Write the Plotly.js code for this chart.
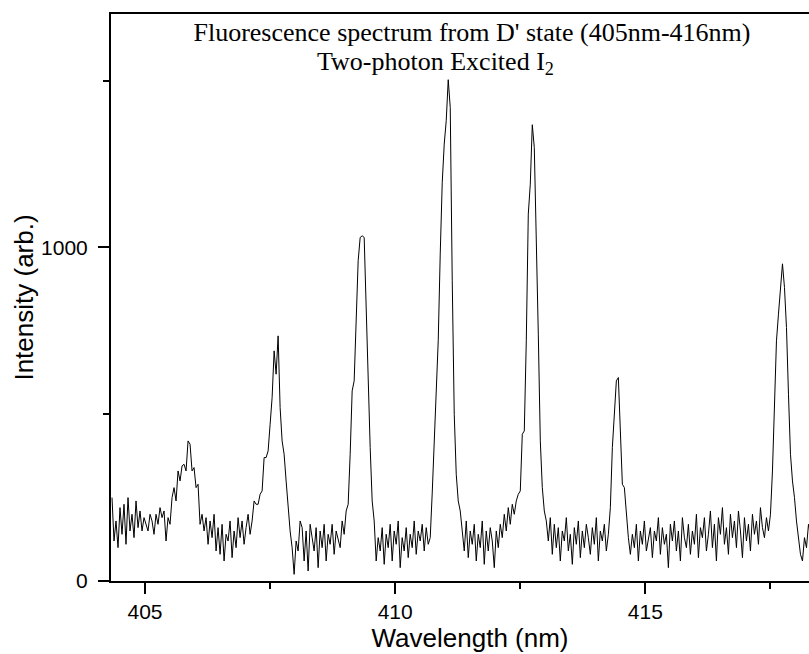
<!DOCTYPE html>
<html>
<head>
<meta charset="utf-8">
<script src="https://cdn.plot.ly/plotly-3.0.1.min.js"></script>
<style>
html, body { margin: 0; padding: 0; overflow: hidden; background: #fff; }
#chart { width: 829px; height: 654px; }
</style>
</head>
<body>
<div id="chart"></div>
<script>
// Spectrum sampled on a regular wavelength grid (nm)
const wavelengthStart = 404.34;
const wavelengthStep = 0.04;

// Intensity (arb.), one value per grid step
const intensity = [
  250,120,180,100,220,140,230,110,250,150,
  200,130,240,160,210,150,190,170,150,200,
  180,140,200,170,220,190,210,120,190,170,
  250,280,240,330,300,345,350,330,420,410,
  330,340,280,290,170,200,150,190,110,180,
  130,200,90,160,80,170,60,140,120,180,
  70,150,100,190,130,180,110,160,200,140,
  180,240,230,230,260,270,370,370,390,470,
  550,690,620,735,520,420,380,300,210,150,
  100,20,120,90,180,160,60,150,30,170,
  130,90,160,40,150,100,170,60,140,110,
  170,80,150,120,100,180,140,210,230,380,
  570,600,780,960,1030,1035,1030,820,560,400,
  240,180,60,130,90,160,50,140,100,170,
  60,150,110,180,40,130,90,160,70,140,
  100,180,80,150,120,170,90,160,110,130,
  264,400,560,720,980,1194,1310,1380,1503,1420,
  900,500,320,240,210,150,90,180,70,150,
  110,170,60,140,100,180,50,150,90,160,
  120,40,150,100,170,130,200,150,220,170,
  230,200,240,260,270,440,450,720,1100,1190,
  1368,1300,1050,740,420,280,210,180,120,190,
  80,170,100,160,60,150,120,190,90,140,
  50,160,110,180,70,150,100,170,130,80,
  160,110,190,60,150,120,170,90,140,220,
  400,520,600,610,470,290,280,200,130,80,
  140,100,170,60,150,110,180,90,130,160,
  70,150,120,190,80,160,110,140,40,170,
  120,180,90,150,60,190,130,100,170,80,
  150,110,200,70,160,130,190,90,140,210,
  100,170,60,190,140,220,110,160,80,200,
  130,180,100,210,150,70,190,120,170,90,
  200,140,180,110,220,160,130,190,150,200,
  330,520,720,800,870,951,880,760,560,380,
  300,250,180,120,80,60,130,100,170,140
];

const titleLine1 = "Fluorescence spectrum from D' state (405nm-416nm)";
const titleLine2 = "Two-photon Excited I<sub>2</sub>";
const xTitle = "Wavelength (nm)";
const yTitle = "Intensity (arb.)";

const sans = "Liberation Sans, Arial, sans-serif";
const serif = "Liberation Serif, Times New Roman, serif";

const trace = {
  type: 'scatter',
  mode: 'lines',
  x0: wavelengthStart,
  dx: wavelengthStep,
  y: intensity,
  line: { color: '#000', width: 1 },
  hoverinfo: 'skip'
};

const layout = {
  width: 829,
  height: 654,
  margin: { l: 111, r: 0, t: 14, b: 73, pad: 0 },
  paper_bgcolor: '#fff',
  plot_bgcolor: '#fff',
  showlegend: false,
  title: {
    text: titleLine1,
    font: { family: serif, size: 26, color: '#000' },
    xref: 'container', x: 472 / 829, xanchor: 'center',
    yref: 'container', y: 1 - 32 / 654, yanchor: 'middle'
  },
  annotations: [{
    text: titleLine2,
    xref: 'paper', x: (315 - 111) / 718, xanchor: 'left',
    yref: 'paper', y: 1 - (63 - 14) / 567, yanchor: 'middle',
    showarrow: false,
    font: { family: serif, size: 26, color: '#000' }
  }],
  xaxis: {
    range: [404.32, 418.67],
    tickmode: 'linear', tick0: 405, dtick: 5,
    ticks: 'outside', ticklen: 11, tickwidth: 2, tickcolor: '#000',
    minor: { tick0: 405, dtick: 2.5, ticks: 'outside', ticklen: 6, tickwidth: 2, tickcolor: '#000', showgrid: false },
    showline: true, linecolor: '#000', linewidth: 2, mirror: true,
    showgrid: false, zeroline: false,
    tickfont: { family: sans, size: 21, color: '#000' },
    title: { text: xTitle, font: { family: sans, size: 26, color: '#000' }, standoff: 0 }
  },
  yaxis: {
    range: [0, 1700],
    tickmode: 'linear', tick0: 0, dtick: 1000,
    ticks: 'outside', ticklen: 11, tickwidth: 2, tickcolor: '#000',
    ticklabelstandoff: 6,
    minor: { tick0: 0, dtick: 500, ticks: 'outside', ticklen: 6, tickwidth: 2, tickcolor: '#000', showgrid: false },
    showline: true, linecolor: '#000', linewidth: 2, mirror: false,
    showgrid: false, zeroline: false,
    tickfont: { family: sans, size: 21, color: '#000' },
    title: { text: yTitle, font: { family: sans, size: 26, color: '#000' }, standoff: 0 }
  }
};

Plotly.newPlot('chart', [trace], layout, { displayModeBar: false, staticPlot: true });
</script>
</body>
</html>
